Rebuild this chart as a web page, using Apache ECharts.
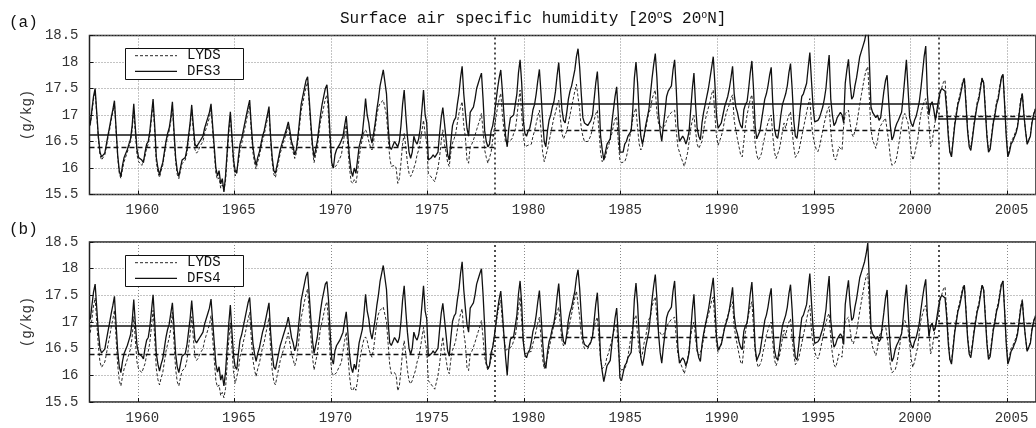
<!DOCTYPE html>
<html><head><meta charset="utf-8">
<script src="https://cdn.jsdelivr.net/npm/echarts@6/dist/echarts.min.js"></script>
<style>html,body{margin:0;padding:0;background:#fff}#c{width:1036px;height:428px}</style>
</head><body><div id="c"></div>
<script>
// Monthly values, one row per year (Jan..Dec), 1958-2006
const lyds = [
[16.80,17.05,17.30,17.45,17.00,16.55,16.25,16.15,16.18,16.25,16.40,16.58],
[16.72,16.90,17.05,17.22,16.70,16.20,15.90,15.80,15.98,16.12,16.15,16.30],
[16.40,16.50,16.72,17.10,16.65,16.25,16.12,16.10,16.05,16.02,16.22,16.38],
[16.45,16.62,16.92,17.22,16.70,16.12,15.92,15.82,15.95,16.05,16.25,16.45],
[16.58,16.70,16.88,17.18,16.62,16.12,15.88,15.80,15.95,16.08,16.10,16.15],
[16.28,16.52,16.78,17.10,16.70,16.35,16.28,16.32,16.40,16.45,16.50,16.65],
[16.75,16.85,16.95,17.12,16.70,16.30,15.90,15.78,15.82,15.62,15.68,15.58],
[15.75,16.20,16.65,16.98,16.50,16.05,15.85,15.82,16.10,16.35,16.45,16.62],
[16.75,16.90,17.05,17.18,16.70,16.30,16.10,15.98,16.12,16.22,16.38,16.52],
[16.62,16.78,16.92,17.08,16.50,16.10,15.88,15.82,15.98,16.12,16.28,16.38],
[16.48,16.58,16.68,16.80,16.60,16.40,16.30,16.18,16.28,16.50,16.80,17.08],
[17.22,17.38,17.52,17.62,17.20,16.75,16.35,16.10,16.25,16.40,16.65,16.88],
[17.00,17.15,17.30,17.38,17.00,16.40,16.05,16.00,15.98,16.05,16.12,16.18],
[16.25,16.45,16.65,16.81,16.40,16.00,15.75,15.71,15.78,15.72,15.90,16.20],
[16.40,16.55,16.68,16.72,16.65,16.50,16.40,16.34,16.50,16.75,17.00,17.15],
[17.22,17.25,17.28,17.28,17.00,16.60,16.20,16.03,16.03,16.05,16.00,15.71],
[15.80,16.10,16.45,16.65,16.40,16.10,15.90,15.84,15.90,16.00,16.09,16.25],
[16.34,16.50,16.70,16.90,16.65,16.47,15.90,15.86,15.84,15.78,15.74,15.71],
[16.00,16.21,16.50,16.72,16.45,16.30,16.10,16.03,16.30,16.47,16.55,16.65],
[16.85,17.03,17.15,17.25,16.80,16.59,16.15,16.09,16.40,16.45,16.53,16.62],
[16.72,16.82,16.91,17.03,16.70,16.34,16.20,16.09,16.06,16.30,16.53,16.75],
[16.95,17.15,17.30,17.41,17.00,16.72,16.47,16.45,16.50,16.53,16.55,16.65],
[16.72,16.95,17.25,17.47,17.00,16.60,16.40,16.40,16.43,16.43,16.45,16.60],
[16.70,16.84,16.98,17.09,16.70,16.30,16.12,16.15,16.35,16.50,16.65,16.80],
[16.95,17.05,17.18,17.28,16.95,16.65,16.55,16.55,16.70,16.85,17.00,17.15],
[17.30,17.45,17.58,17.60,17.10,16.75,16.60,16.50,16.47,16.50,16.55,16.62],
[16.75,16.90,17.02,17.09,16.70,16.30,16.12,16.09,16.20,16.35,16.42,16.55],
[16.65,16.80,16.92,16.97,16.50,16.15,16.10,16.10,16.12,16.20,16.35,16.55],
[16.75,16.92,17.05,17.13,16.75,16.45,16.34,16.40,16.60,16.72,16.90,17.05],
[17.10,17.30,17.40,17.47,17.05,16.84,16.80,16.75,16.75,16.80,16.90,16.97],
[17.00,17.05,17.08,17.09,16.70,16.40,16.30,16.20,16.12,16.03,16.15,16.28],
[16.50,16.75,16.90,17.00,16.70,16.45,16.37,16.40,16.50,16.70,16.90,17.03],
[17.05,17.25,17.40,17.47,17.00,16.60,16.43,16.45,16.60,16.72,16.90,17.03],
[17.05,17.20,17.32,17.38,16.90,16.72,16.55,16.40,16.25,16.21,16.50,16.80],
[17.00,17.15,17.30,17.38,16.90,16.47,16.25,16.15,16.20,16.28,16.45,16.59],
[16.75,16.85,16.95,17.00,16.60,16.30,16.18,16.20,16.35,16.50,16.70,16.85],
[16.75,16.90,17.00,17.06,16.70,16.40,16.20,16.18,16.30,16.45,16.60,16.75],
[16.90,17.05,17.20,17.31,16.85,16.60,16.45,16.35,16.31,16.40,16.55,16.70],
[16.85,16.98,17.10,17.16,16.70,16.40,16.20,16.15,16.25,16.40,16.40,16.34],
[16.80,17.03,17.06,17.09,16.85,16.65,16.59,16.62,16.80,17.00,17.20,17.38],
[17.55,17.72,17.85,17.91,17.30,16.72,16.53,16.45,16.37,16.50,16.72,16.80],
[16.85,16.90,16.94,16.94,16.50,16.20,16.05,16.03,16.10,16.21,16.40,16.59],
[16.80,16.97,17.03,17.06,16.85,16.59,16.30,16.15,16.25,16.40,16.53,16.80],
[17.03,17.15,17.25,17.31,17.10,16.84,16.40,16.50,16.72,16.90,17.03,17.20],
[17.41,17.52,17.62,17.66,17.20,16.70,16.30,16.25,16.55,16.85,17.05,17.25],
[17.35,17.50,17.65,17.70,17.25,16.75,16.45,16.40,16.60,16.85,17.05,17.25],
[17.35,17.55,17.70,17.62,17.15,16.65,16.33,16.40,16.65,16.90,17.05,17.25],
[17.35,17.55,17.72,17.77,17.25,16.65,16.25,16.35,16.50,16.55,16.62,16.70],
[16.80,17.05,17.30,17.42,17.00,16.70,16.45,16.45,16.62,16.87,17.02,17.12]
];
const dfs3 = [
[16.84,17.10,17.35,17.50,17.05,16.60,16.30,16.21,16.22,16.28,16.45,16.62],
[16.78,16.95,17.10,17.27,16.75,16.25,15.95,15.84,16.05,16.20,16.20,16.35],
[16.45,16.55,16.80,17.21,16.75,16.35,16.20,16.18,16.15,16.10,16.30,16.45],
[16.50,16.70,17.00,17.30,16.80,16.20,16.00,15.87,16.00,16.10,16.30,16.50],
[16.65,16.75,16.95,17.25,16.70,16.20,15.95,15.84,16.00,16.15,16.15,16.20],
[16.35,16.60,16.85,17.19,16.80,16.45,16.40,16.45,16.50,16.55,16.60,16.75],
[16.85,16.95,17.05,17.21,16.80,16.40,16.00,15.85,15.95,15.70,15.80,15.55],
[15.85,16.30,16.75,17.06,16.60,16.15,15.95,15.90,16.20,16.45,16.55,16.70],
[16.85,17.00,17.15,17.28,16.80,16.40,16.20,16.05,16.20,16.30,16.45,16.60],
[16.70,16.85,17.00,17.16,16.60,16.20,15.95,15.90,16.05,16.20,16.35,16.45],
[16.55,16.65,16.75,16.87,16.70,16.50,16.40,16.25,16.35,16.60,16.90,17.20],
[17.35,17.50,17.65,17.72,17.30,16.85,16.45,16.20,16.35,16.50,16.75,17.00],
[17.20,17.35,17.50,17.57,17.20,16.60,16.10,16.00,16.25,16.35,16.40,16.45],
[16.45,16.60,16.80,16.98,16.60,16.20,15.95,15.84,16.00,15.90,16.15,16.40],
[16.40,16.65,16.95,17.31,17.00,16.85,16.60,16.47,16.65,16.85,17.10,17.30],
[17.55,17.70,17.85,17.88,17.40,16.80,16.40,16.35,16.35,16.50,16.45,16.40],
[16.50,16.80,17.20,17.47,17.00,16.60,16.30,16.18,16.30,16.60,16.50,16.45],
[16.55,16.75,17.10,17.47,17.00,16.85,16.15,16.15,16.20,16.25,16.20,16.20],
[16.30,16.65,16.95,17.14,16.85,16.55,16.25,16.15,16.50,16.80,16.90,16.95],
[17.20,17.40,17.70,17.92,17.40,17.05,16.75,16.60,17.05,17.10,17.15,17.30],
[17.50,17.60,17.70,17.79,17.30,16.70,16.50,16.40,16.45,16.70,16.80,17.00],
[17.25,17.50,17.70,17.85,17.45,17.00,16.60,16.40,16.75,16.95,16.95,17.00],
[17.20,17.40,17.80,18.04,17.60,16.90,16.65,16.60,16.70,16.75,16.90,17.10],
[17.20,17.40,17.65,17.86,17.40,16.90,16.50,16.40,16.70,16.90,17.00,17.15],
[17.25,17.45,17.75,17.99,17.55,17.10,16.90,16.85,17.05,17.30,17.45,17.55],
[17.70,17.85,18.10,18.25,17.90,17.40,16.95,16.85,16.85,16.80,16.80,16.90],
[17.00,17.30,17.60,17.82,17.30,16.60,16.35,16.15,16.30,16.45,16.50,16.55],
[16.85,17.10,17.35,17.53,17.00,16.30,16.30,16.30,16.45,16.50,16.60,16.62],
[16.70,17.10,17.70,18.00,17.60,17.00,16.60,16.45,16.60,16.80,16.95,17.10],
[17.40,17.70,17.95,18.16,17.70,17.05,16.70,16.50,16.80,17.05,17.35,17.45],
[17.50,17.55,17.85,18.04,17.50,16.80,16.50,16.55,16.60,16.55,16.45,16.55],
[16.70,17.10,17.50,17.79,17.20,16.75,16.60,16.53,16.85,17.05,17.20,17.35],
[17.50,17.70,17.90,18.10,17.60,17.00,16.75,16.72,16.85,17.00,17.15,17.25],
[17.35,17.50,17.70,17.92,17.40,17.15,17.05,16.90,16.80,16.75,17.10,17.20],
[17.25,17.50,17.80,18.02,17.50,16.80,16.55,16.53,16.70,16.90,17.10,17.30],
[17.40,17.55,17.75,17.90,17.20,16.75,16.60,16.56,16.75,17.00,17.20,17.30],
[17.40,17.55,17.80,17.97,17.50,16.90,16.60,16.56,16.80,17.10,17.35,17.40],
[17.40,17.60,17.90,18.18,17.65,17.16,16.87,16.88,16.90,16.95,17.05,17.15],
[17.30,17.50,17.85,18.13,17.30,17.00,16.80,16.85,16.95,17.00,17.05,17.00],
[16.85,17.60,17.85,18.05,17.60,17.30,17.35,17.55,17.70,17.90,18.10,18.20],
[18.30,18.40,18.55,18.75,18.00,17.15,17.05,17.05,16.95,17.00,16.90,16.95],
[17.20,17.45,17.65,17.75,17.25,16.80,16.53,16.60,16.75,16.84,16.90,16.90],
[17.05,17.35,17.70,18.04,17.50,16.95,16.84,16.78,16.90,16.97,17.10,17.25],
[17.50,17.80,18.10,18.30,17.40,17.00,17.20,17.25,17.10,16.90,17.10,17.30],
[17.45,17.50,17.50,17.45,17.10,16.60,16.30,16.21,16.50,16.80,17.00,17.20],
[17.30,17.45,17.60,17.69,17.20,16.70,16.40,16.33,16.55,16.80,17.00,17.20],
[17.30,17.50,17.69,17.60,17.10,16.60,16.30,16.35,16.60,16.85,17.00,17.20],
[17.30,17.50,17.70,17.77,17.20,16.60,16.21,16.30,16.45,16.50,16.58,16.65],
[16.77,17.00,17.25,17.40,17.00,16.70,16.45,16.42,16.60,16.85,17.00,17.10]
];
const dfs4 = [
[17.05,17.31,17.56,17.71,17.26,16.81,16.51,16.42,16.43,16.49,16.66,16.83],
[16.99,17.16,17.31,17.48,16.96,16.46,16.16,16.05,16.26,16.41,16.41,16.56],
[16.66,16.76,17.01,17.42,16.96,16.56,16.41,16.39,16.36,16.31,16.51,16.66],
[16.71,16.91,17.21,17.51,17.01,16.41,16.21,16.08,16.21,16.31,16.51,16.71],
[16.86,16.96,17.16,17.36,16.91,16.41,16.16,16.05,16.21,16.36,16.36,16.41],
[16.56,16.81,17.06,17.40,17.01,16.66,16.61,16.66,16.71,16.76,16.81,16.96],
[17.06,17.16,17.26,17.43,17.01,16.61,16.21,16.06,16.16,15.91,16.01,15.80],
[16.06,16.51,16.96,17.32,16.81,16.36,16.16,16.11,16.41,16.66,16.76,16.91],
[17.06,17.21,17.36,17.46,17.01,16.61,16.41,16.26,16.41,16.51,16.66,16.81],
[16.91,17.06,17.21,17.36,16.81,16.41,16.16,16.11,16.26,16.41,16.56,16.66],
[16.76,16.86,16.96,17.09,16.91,16.71,16.61,16.46,16.56,16.81,17.11,17.41],
[17.56,17.71,17.86,17.94,17.51,17.06,16.66,16.41,16.56,16.71,16.96,17.21],
[17.41,17.56,17.71,17.76,17.41,16.81,16.31,16.21,16.46,16.56,16.61,16.66],
[16.66,16.81,17.01,17.19,16.81,16.41,16.16,16.05,16.21,16.11,16.36,16.61],
[16.61,16.86,17.16,17.52,17.21,17.06,16.81,16.68,16.86,17.06,17.31,17.51],
[17.76,17.91,18.06,18.09,17.61,17.01,16.61,16.56,16.56,16.71,16.66,16.61],
[16.71,17.01,17.41,17.68,17.21,16.81,16.51,16.39,16.51,16.81,16.71,16.66],
[16.76,16.96,17.31,17.68,17.21,17.06,16.36,16.36,16.41,16.46,16.41,16.41],
[16.51,16.86,17.16,17.35,17.06,16.76,16.46,16.36,16.71,17.01,17.11,17.16],
[17.41,17.61,17.91,18.13,17.61,17.26,16.96,16.81,17.26,17.31,17.36,17.51],
[17.71,17.81,17.91,18.00,17.51,16.91,16.23,16.13,16.18,16.43,16.53,16.73],
[16.98,17.23,17.43,17.58,17.18,16.73,16.33,16.00,16.48,16.68,16.68,16.73],
[16.93,17.13,17.53,17.77,17.33,16.63,16.38,16.33,16.43,16.48,16.63,16.83],
[16.93,17.13,17.38,17.59,17.13,16.63,16.23,16.13,16.43,16.63,16.73,16.88],
[16.98,17.18,17.48,17.72,17.28,16.83,16.63,16.58,16.78,17.03,17.18,17.28],
[17.43,17.58,17.83,17.98,17.63,17.13,16.68,16.58,16.58,16.53,16.53,16.63],
[16.73,17.03,17.33,17.55,17.03,16.33,16.08,15.88,16.03,16.18,16.23,16.28],
[16.58,16.83,17.08,17.26,16.73,15.95,15.90,15.92,16.18,16.23,16.33,16.35],
[16.43,16.83,17.43,17.73,17.33,16.73,16.33,16.18,16.33,16.53,16.68,16.83],
[17.13,17.43,17.68,17.89,17.43,16.78,16.43,16.23,16.53,16.78,17.08,17.18],
[17.23,17.28,17.58,17.77,17.23,16.53,16.23,16.28,16.33,16.28,16.18,16.28],
[16.43,16.83,17.23,17.52,16.93,16.48,16.33,16.26,16.58,16.78,16.93,17.08],
[17.23,17.43,17.63,17.83,17.33,16.73,16.48,16.45,16.58,16.73,16.88,16.98],
[17.08,17.23,17.43,17.65,17.13,16.88,16.78,16.63,16.53,16.48,16.83,16.93],
[16.98,17.23,17.53,17.75,17.23,16.53,16.28,16.26,16.43,16.63,16.83,17.03],
[17.13,17.28,17.48,17.63,16.93,16.48,16.33,16.29,16.48,16.73,16.93,17.03],
[17.13,17.28,17.53,17.70,17.23,16.63,16.33,16.29,16.53,16.83,17.08,17.13],
[17.13,17.33,17.63,17.91,17.38,16.89,16.60,16.61,16.63,16.68,16.78,16.88],
[17.03,17.23,17.58,17.86,17.03,16.73,16.53,16.58,16.68,16.73,16.78,16.73],
[16.58,17.33,17.58,17.78,17.33,17.03,17.08,17.28,17.43,17.63,17.83,17.93],
[18.03,18.13,18.28,18.48,17.73,16.88,16.78,16.78,16.68,16.73,16.63,16.68],
[16.93,17.18,17.45,17.60,16.98,16.53,16.26,16.33,16.48,16.57,16.63,16.63],
[16.78,17.08,17.43,17.70,17.23,16.68,16.57,16.51,16.63,16.70,16.83,16.98],
[17.23,17.45,17.65,17.80,17.13,16.73,16.93,16.98,16.83,16.90,17.10,17.30],
[17.45,17.50,17.50,17.45,17.10,16.60,16.30,16.21,16.50,16.80,17.00,17.20],
[17.30,17.45,17.60,17.69,17.20,16.70,16.40,16.33,16.55,16.80,17.00,17.20],
[17.30,17.50,17.69,17.60,17.10,16.60,16.30,16.35,16.60,16.85,17.00,17.20],
[17.30,17.50,17.70,17.77,17.20,16.60,16.21,16.30,16.45,16.50,16.58,16.65],
[16.77,17.00,17.25,17.40,17.00,16.70,16.45,16.42,16.60,16.85,17.00,17.10]
];

const yearTicks = [1960,1965,1970,1975,1980,1985,1990,1995,2000,2005];
const axisStart = 1957.5, axisEnd = 2006.5;     // axis span in years
const periodBreaks = [1957.5, 1978.46, 2001.44, 2006.5];
const changeYears = [1978.46, 2001.44];
const meanA_LYDS = [16.39, 16.72, 16.98];
const meanA_DFS3 = [16.63, 17.21, 16.92];
const meanB_LYDS = [16.40, 16.71, 16.98];
const meanB_DFS4 = [16.93];

function toPoints(rows){
  const out = [];
  rows.forEach((row, y) => row.forEach((v, m) => out.push([axisStart + (y*12 + m + 0.5)/12, v])));
  return out;
}
function meanSegs(vals){
  if (vals.length === 1) return [[{coord:[periodBreaks[0], vals[0]]},{coord:[periodBreaks[periodBreaks.length-1], vals[0]]}]];
  return vals.map((v,k)=>[{coord:[periodBreaks[k], v]},{coord:[periodBreaks[k+1], v]}]);
}

const FONT = '"Liberation Mono","DejaVu Sans Mono",monospace';
const INK = '#111';
function xAx(gi){
  return {gridIndex: gi, type:'value', min: axisStart, max: axisEnd, splitNumber: 10,
    axisLine:{show:false},
    axisTick:{show:true, inside:true, length:4, customValues: yearTicks, lineStyle:{color:INK}},
    axisLabel:{customValues: yearTicks, formatter: v => String(v), fontFamily: FONT, fontSize: 14, color:'#333', margin: 9, padding:[0,0,0,9]},
    splitLine:{show:true, lineStyle:{type:[1,2], color:'#888', width:1}}};
}
function yAx(gi){
  return {gridIndex: gi, type:'value', min:15.5, max:18.5, interval:0.5,
    name:'(g/kg)', nameLocation:'middle', nameGap:52, nameRotate:90,
    nameTextStyle:{fontFamily:FONT, fontSize:14, color:'#333'},
    axisLine:{show:false},
    axisTick:{show:true, inside:true, length:4, lineStyle:{color:INK}},
    axisLabel:{fontFamily:FONT, fontSize:14, color:'#333', margin:11},
    splitLine:{show:true, lineStyle:{type:[1,2], color:'#888', width:1}}};
}
function dataSeries(name, rows, gi, dashed, means){
  return {name, type:'line', xAxisIndex:gi, yAxisIndex:gi, data: toPoints(rows),
    symbol:'none', showSymbol:false, animation:false, z: dashed?3:4, color: INK,
    lineStyle: dashed ? {color:INK, width:0.9, type:[3,2]} : {color:INK, width:1.3},
    markLine:{symbol:'none', silent:true, animation:false, label:{show:false},
      lineStyle: dashed ? {color:INK, width:1.3, type:[5,3]} : {color:INK, width:1.6, type:'solid'},
      data: meanSegs(means)}};
}
function vlineSeries(gi){
  return {type:'line', xAxisIndex:gi, yAxisIndex:gi, data:[], silent:true,
    markLine:{symbol:'none', silent:true, animation:false, label:{show:false},
      lineStyle:{color:'#222', width:1.6, type:[2,3]},
      data: changeYears.map(x=>({xAxis:x}))}};
}
function legendBox(top, name2){
  const y1 = top + 7.7, y2 = top + 23.4;
  return [
    {type:'rect', z:100, shape:{x:125.5, y:top+0.5, width:118, height:31}, style:{fill:'#fff', stroke:INK, lineWidth:1}},
    {type:'line', z:101, shape:{x1:135, y1:y1, x2:177, y2:y1}, style:{stroke:INK, lineWidth:0.9, lineDash:[3,2]}},
    {type:'line', z:101, shape:{x1:135, y1:y2, x2:177, y2:y2}, style:{stroke:INK, lineWidth:1.3}},
    {type:'text', z:101, x:187, y:y1, style:{text:'LYDS', font:'14px '+FONT, fill:INK, verticalAlign:'middle'}},
    {type:'text', z:101, x:187, y:y2, style:{text:name2, font:'14px '+FONT, fill:INK, verticalAlign:'middle'}}
  ];
}

const chart = echarts.init(document.getElementById('c'), null, {renderer:'canvas'});
chart.setOption({
  animation:false,
  backgroundColor:'#fff',
  title:{text:'Surface air specific humidity [20{s|o}S 20{s|o}N]', left:335, top:5,
    textStyle:{fontFamily:FONT, fontSize:16, fontWeight:'normal', color:INK,
      rich:{s:{fontFamily:FONT, fontSize:10, verticalAlign:'top', padding:[0,0,8,0], color:INK}}}},
  grid:[
    {left:89.5, right:-1.1, top:35.5, height:159, show:true, borderColor:'#222', borderWidth:1.5},
    {left:89.5, right:-1.1, top:242, height:160, show:true, borderColor:'#222', borderWidth:1.5}
  ],
  xAxis:[xAx(0), xAx(1)],
  yAxis:[yAx(0), yAx(1)],
  graphic:[
    {type:'text', left:9, top:15, style:{text:'(a)', font:'16px '+FONT, fill:INK}},
    {type:'text', left:9, top:222, style:{text:'(b)', font:'16px '+FONT, fill:INK}}
  ].concat(legendBox(48, 'DFS3'), legendBox(255, 'DFS4')),
  series:[
    dataSeries('LYDS', lyds, 0, true, meanA_LYDS),
    dataSeries('DFS3', dfs3, 0, false, meanA_DFS3),
    vlineSeries(0),
    dataSeries('LYDS', lyds, 1, true, meanB_LYDS),
    dataSeries('DFS4', dfs4, 1, false, meanB_DFS4),
    vlineSeries(1)
  ]
});
</script></body></html>
